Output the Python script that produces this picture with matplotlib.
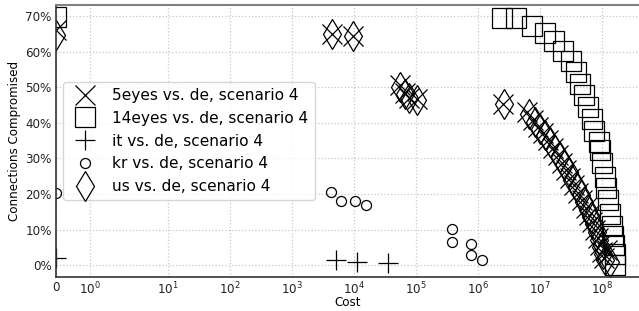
import math
import matplotlib
matplotlib.use("Agg")
import matplotlib.pyplot as plt
from matplotlib.ticker import FuncFormatter, FixedLocator

# ---------------- data ----------------
labels = ["5eyes vs. de, scenario 4", "14eyes vs. de, scenario 4",
          "it vs. de, scenario 4", "kr vs. de, scenario 4", "us vs. de, scenario 4"]

cost_5eyes = [0, 4300, 9400, 54000, 66000, 76000, 103000, 2.5e6,
              6.1e6, 7.7e6, 9.2e6, 1.11e7, 1.33e7, 1.61e7, 1.94e7, 2.24e7, 2.61e7,
              3.02e7, 3.51e7, 4.06e7, 4.72e7, 5.47e7, 6.12e7, 6.84e7, 7.66e7,
              8.55e7, 9.2e7, 9.9e7, 1.07e8, 1.19e8]
pct_5eyes = [66.0, 64.9, 64.3, 50.6, 48.3, 46.9, 46.6, 45.4,
             43.0, 40.7, 38.8, 37.1, 35.1, 32.9, 30.9, 28.7, 26.7,
             24.4, 22.5, 20.2, 18.3, 16.0, 14.0, 12.1, 9.8,
             7.6, 5.6, 3.7, 2.0, 4.2]

cost_14eyes = [0, 2.42e6, 4.07e6, 7.36e6, 1.19e7, 1.67e7, 2.33e7, 3.13e7, 3.78e7,
               4.39e7, 5.08e7, 5.79e7, 6.72e7, 7.36e7, 8.71e7, 9.2e7, 9.91e7,
               1.09e8, 1.13e8, 1.24e8, 1.33e8, 1.44e8, 1.49e8, 1.55e8, 1.58e8, 1.61e8]
pct_14eyes = [69.7, 69.5, 69.5, 67.2, 65.3, 63.1, 60.3, 57.5, 54.3,
              50.9, 47.8, 44.5, 41.2, 37.6, 34.6, 32.3, 28.7,
              24.8, 21.6, 18.3, 14.3, 11.0, 8.1, 5.6, 3.1, 0.0]

cost_it = [0, 5000, 11200, 35500]
pct_it = [1.9, 1.6, 0.9, 0.5]

cost_kr = [0, 4200, 6100, 10400, 15500, 373000, 380000, 757000, 757000, 1.14e6]
pct_kr = [20.3, 20.5, 18.1, 18.1, 16.9, 10.1, 6.5, 6.1, 2.8, 1.4]

cost_us = [0, 4300, 9400, 55000, 66000, 76000, 103000, 2.55e6,
           6.6e6, 8.3e6, 1.0e7, 1.2e7, 1.45e7, 1.75e7, 2.1e7, 2.45e7, 2.85e7,
           3.3e7, 3.85e7, 4.45e7, 5.15e7, 5.9e7, 6.6e7, 7.3e7, 8.1e7,
           8.9e7, 9.6e7, 1.03e8, 1.12e8, 1.33e8]
pct_us = [64.6, 64.9, 64.3, 50.2, 48.0, 47.0, 46.4, 45.2,
          42.6, 40.3, 38.4, 36.6, 34.6, 32.4, 30.4, 28.2, 26.2,
          24.0, 22.0, 19.8, 17.8, 15.6, 13.6, 11.6, 9.4,
          7.2, 5.2, 3.3, 1.6, 0.8]

x_ticks = [0, 1, 10, 100, 1e3, 1e4, 1e5, 1e6, 1e7, 1e8]
y_ticks = [0, 10, 20, 30, 40, 50, 60, 70]

# ---------------- figure ----------------
W, H, DPI = 639, 311, 100
fig = plt.figure(figsize=(W / DPI, H / DPI), dpi=DPI, facecolor="white")
ax = fig.add_axes([56 / W, 34 / H, (639 - 56) / W, (306 - 34) / H])
ax.set_facecolor("white")

common = dict(linestyle="none", color="black", markerfacecolor="none",
              markeredgewidth=0.9)
ax.plot(cost_5eyes, pct_5eyes, marker="x", markersize=14.5, label=labels[0], **common)
ax.plot(cost_14eyes, pct_14eyes, marker="s", markersize=14.8, label=labels[1], **common)
ax.plot(cost_it, pct_it, marker="+", markersize=14.5, label=labels[2], **common)
ax.plot(cost_kr, pct_kr, marker="o", markersize=7.2, label=labels[3], **common)
ax.plot(cost_us, pct_us, marker="d", markersize=15.5, label=labels[4], **common)

ax.set_xscale("symlog", linthresh=2, linscale=1)
ax.set_xlim(0, 3.9e8)
ax.set_ylim(-3.3, 73.1)
ax.xaxis.set_major_locator(FixedLocator(x_ticks))
ax.xaxis.set_minor_locator(FixedLocator([]))


def xfmt(v, pos):
    if v == 0:
        return "0"
    return r"$10^{%d}$" % int(round(math.log10(v)))


ax.xaxis.set_major_formatter(FuncFormatter(xfmt))
ax.yaxis.set_major_locator(FixedLocator(y_ticks))
ax.yaxis.set_major_formatter(FuncFormatter(lambda v, p: "%d%%" % v))

ax.grid(True, which="major", linestyle=":", color="#c8c8c8", linewidth=0.9)
ax.set_axisbelow(True)
ax.tick_params(axis="both", length=0, labelsize=8.6, pad=3, colors="#222222")

ax.set_xlabel("Cost", fontsize=8.6, labelpad=-1)
ax.set_ylabel("Connections Compromised", fontsize=8.6, labelpad=3)

ax.spines["right"].set_visible(False)
ax.spines["top"].set_color("#808080")
ax.spines["top"].set_linewidth(1.5)
for s in ("left", "bottom"):
    ax.spines[s].set_color("#333333")
    ax.spines[s].set_linewidth(1.2)

leg = ax.legend(loc="upper left", bbox_to_anchor=(7 / 583, (277 - 82) / 272),
                borderaxespad=0, fontsize=11.1, labelspacing=0.5,
                frameon=True, fancybox=True, framealpha=0.8, edgecolor="#cccccc")

fig.savefig("out.png", dpi=DPI, facecolor="white")
